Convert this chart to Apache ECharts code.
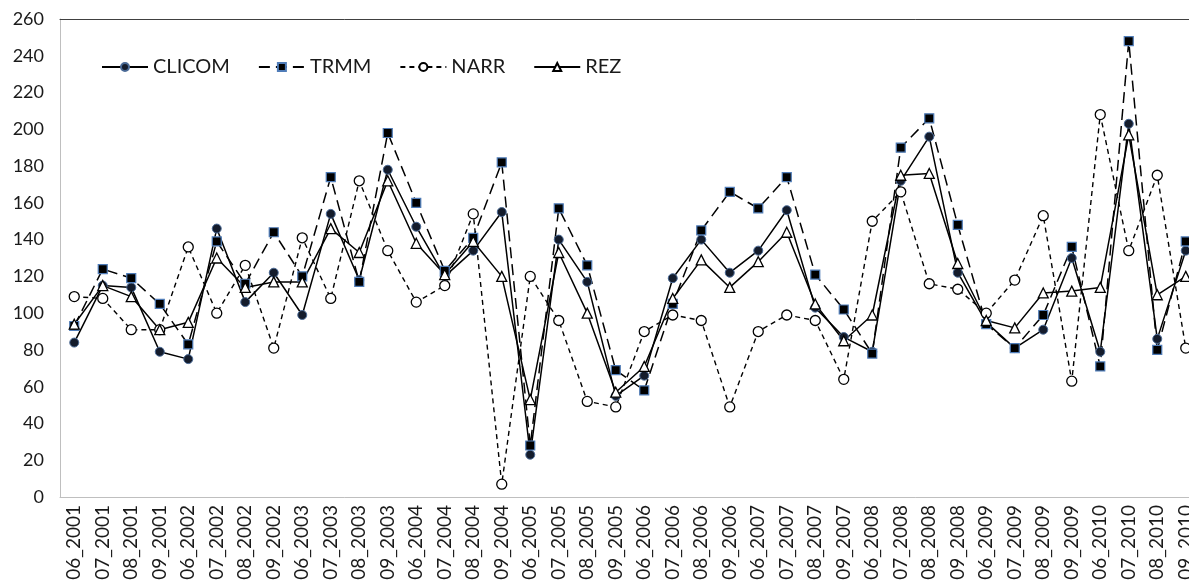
<!DOCTYPE html>
<html>
<head>
<meta charset="utf-8">
<script src="https://cdn.jsdelivr.net/npm/echarts@6/dist/echarts.min.js"></script>
<style>
  html, body { margin: 0; padding: 0; background: #fff; overflow: hidden; }
  /* the plot runs a little past the right edge of the window, as in the original */
  #main { width: 1200px; height: 584px; }
</style>
</head>
<body>
<div id="main"></div>
<script>
// months 06..09 for each year 2001-2010
var categories = [
  '06_2001', '07_2001', '08_2001', '09_2001',
  '06_2002', '07_2002', '08_2002', '09_2002',
  '06_2003', '07_2003', '08_2003', '09_2003',
  '06_2004', '07_2004', '08_2004', '09_2004',
  '06_2005', '07_2005', '08_2005', '09_2005',
  '06_2006', '07_2006', '08_2006', '09_2006',
  '06_2007', '07_2007', '08_2007', '09_2007',
  '06_2008', '07_2008', '08_2008', '09_2008',
  '06_2009', '07_2009', '08_2009', '09_2009',
  '06_2010', '07_2010', '08_2010', '09_2010'
]
var clicom = [
  84, 115, 114, 79, 75, 146, 106, 122, 99, 154, 118, 178,
  147, 120, 134, 155, 23, 140, 117, 55, 66, 119, 140, 122,
  134, 156, 103, 87, 79, 172, 196, 122, 95, 81, 91, 130,
  79, 203, 86, 134
]
var trmm = [
  93, 124, 119, 105, 83, 139, 116, 144, 120, 174, 117, 198,
  160, 123, 141, 182, 28, 157, 126, 69, 58, 105, 145, 166,
  157, 174, 121, 102, 78, 190, 206, 148, 94, 81, 99, 136,
  71, 248, 80, 139
]
var narr = [
  109, 108, 91, 91, 136, 100, 126, 81, 141, 108, 172, 134,
  106, 115, 154, 7, 120, 96, 52, 49, 90, 99, 96, 49,
  90, 99, 96, 64, 150, 166, 116, 113, 100, 118, 153, 63,
  208, 134, 175, 81
]
var rez = [
  94, 115, 109, 91, 95, 130, 114, 117, 117, 146, 133, 172,
  138, 121, 139, 120, 53, 133, 100, 57, 71, 108, 129, 114,
  128, 144, 105, 85, 99, 175, 176, 127, 96, 92, 111, 112,
  114, 197, 110, 120
]
var yTicks = { min: 0, max: 260, step: 20 }

var chart = echarts.init(document.getElementById('main'))
var font = 'Lato, "Liberation Sans", sans-serif'

chart.setOption({
  animation: false,
  backgroundColor: '#ffffff',
  grid: { left: 60, top: 19, right: 0, bottom: 87 },
  legend: {
    left: 96,
    top: 52,
    itemWidth: 46,
    itemHeight: 10,
    itemGap: 28,
    textStyle: { fontFamily: font, fontSize: 20, color: '#1a1a1a' },
    data: ['CLICOM', 'TRMM', 'NARR', 'REZ']
  },
  xAxis: [{
    type: 'category',
    data: categories,
    boundaryGap: true,
    axisLine: { lineStyle: { color: '#bfbfbf', width: 1 } },
    axisTick: { show: false },
    axisLabel: {
      rotate: 90,
      interval: 0,
      margin: 8,
      fontFamily: font,
      fontSize: 19,
      color: '#1a1a1a'
    }
  }, {
    type: 'category',
    data: categories,
    position: 'top',
    axisLine: { lineStyle: { color: '#404040', width: 1 } },
    axisTick: { show: false },
    axisLabel: { show: false }
  }],
  yAxis: {
    type: 'value',
    min: yTicks.min,
    max: yTicks.max,
    interval: yTicks.step,
    axisLine: { show: true, lineStyle: { color: '#bfbfbf' } },
    axisTick: { show: false },
    splitLine: { show: false },
    axisLabel: { margin: 16, fontFamily: font, fontSize: 18, color: '#1a1a1a' }
  },
  series: [
    {
      name: 'CLICOM',
      type: 'line',
      data: clicom,
      symbol: 'circle',
      symbolSize: 9,
      lineStyle: { color: '#000', width: 1.5 },
      itemStyle: { color: '#141c2c', borderColor: '#4a6a96', borderWidth: 1 }
    },
    {
      name: 'TRMM',
      type: 'line',
      data: trmm,
      symbol: 'rect',
      symbolSize: 9,
      lineStyle: { color: '#000', width: 1.5, type: [11, 6] },
      itemStyle: { color: '#000', borderColor: '#4f7cb8', borderWidth: 1.2 }
    },
    {
      name: 'NARR',
      type: 'line',
      data: narr,
      symbol: 'circle',
      symbolSize: 10,
      lineStyle: { color: '#000', width: 1.4, type: [5, 4] },
      itemStyle: { color: '#fff', borderColor: '#000', borderWidth: 1.3 }
    },
    {
      name: 'REZ',
      type: 'line',
      data: rez,
      symbol: 'triangle',
      symbolSize: 10,
      lineStyle: { color: '#000', width: 1.5 },
      itemStyle: { color: '#fff', borderColor: '#000', borderWidth: 1.3 }
    }
  ]
})
</script>
</body>
</html>
